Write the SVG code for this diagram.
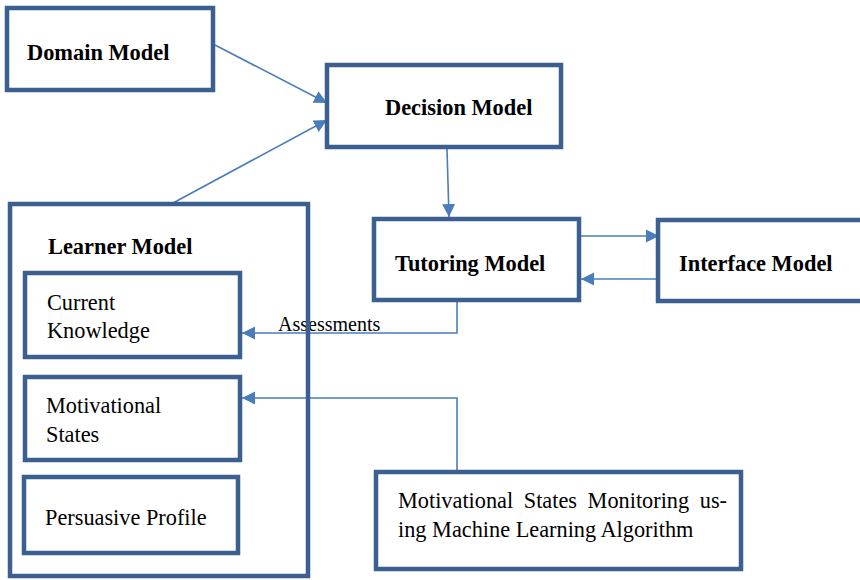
<svg xmlns="http://www.w3.org/2000/svg" width="860" height="580" viewBox="0 0 860 580">
<style>
.box{fill:#fff;stroke:#3B5F8E;stroke-width:4.5}
.open{fill:none}
text{font-family:"Liberation Serif","Times New Roman","DejaVu Serif",serif;fill:#000}
.b{font-weight:bold;font-size:22.4px}
.r{font-size:22.3px}
.c{fill:none;stroke:#4A7EBB;stroke-width:1.6}
</style>
<defs>
<marker id="ah" markerUnits="userSpaceOnUse" markerWidth="14" markerHeight="14" viewBox="0 0 14 14" refX="13" refY="7" orient="auto">
<path d="M0,0.5 L13,7 L0,13.5 Z" fill="#4A7EBB"/>
</marker>
</defs>
<rect width="860" height="580" fill="#fff"/>
<g id="connectors">
<line class="c" x1="215" y1="45" x2="327" y2="103" marker-end="url(#ah)"/>
<line class="c" x1="173" y1="203" x2="327" y2="120" marker-end="url(#ah)"/>
<line class="c" x1="447" y1="149" x2="449" y2="217" marker-end="url(#ah)"/>
<line class="c" x1="581" y1="236" x2="659" y2="236" marker-end="url(#ah)"/>
<line class="c" x1="657" y1="279" x2="581" y2="279" marker-end="url(#ah)"/>
<polyline class="c" points="457,302 457,333 242,333" marker-end="url(#ah)"/>
<polyline class="c" points="457,472 457,398 242,398" marker-end="url(#ah)"/>
</g>
<g id="assessments-label">
<text class="r" x="278" y="331" style="font-size:20px">Assessments</text>
</g>
<g id="domain-model">
<rect class="box" x="7" y="8" width="206" height="82"/>
<text class="b" x="27" y="60">Domain Model</text>
</g>
<g id="decision-model">
<rect class="box" x="327" y="65" width="234" height="82"/>
<text class="b" x="385" y="115">Decision Model</text>
</g>
<g id="tutoring-model">
<rect class="box" x="374" y="219" width="205" height="81"/>
<text class="b" x="395" y="271">Tutoring Model</text>
</g>
<g id="interface-model">
<rect class="box" x="658" y="220" width="220" height="81"/>
<text class="b" x="679" y="271">Interface Model</text>
</g>
<g id="learner-model">
<rect class="box open" x="10" y="204" width="298" height="372"/>
<text class="b" x="48" y="254">Learner Model</text>
</g>
<g id="current-knowledge">
<rect class="box" x="25" y="273" width="215" height="84"/>
<text class="r" x="47" y="310">Current</text>
<text class="r" x="47" y="338">Knowledge</text>
</g>
<g id="motivational-states">
<rect class="box" x="25" y="377" width="215" height="83"/>
<text class="r" x="46" y="413">Motivational</text>
<text class="r" x="46" y="442">States</text>
</g>
<g id="persuasive-profile">
<rect class="box" x="24" y="477" width="214" height="76"/>
<text class="r" x="45" y="525">Persuasive Profile</text>
</g>
<g id="monitoring">
<rect class="box" x="376" y="472" width="365" height="97"/>
<text class="r" x="398" y="508" word-spacing="5">Motivational States Monitoring us-</text>
<text class="r" x="398" y="537">ing Machine Learning Algorithm</text>
</g>
</svg>
